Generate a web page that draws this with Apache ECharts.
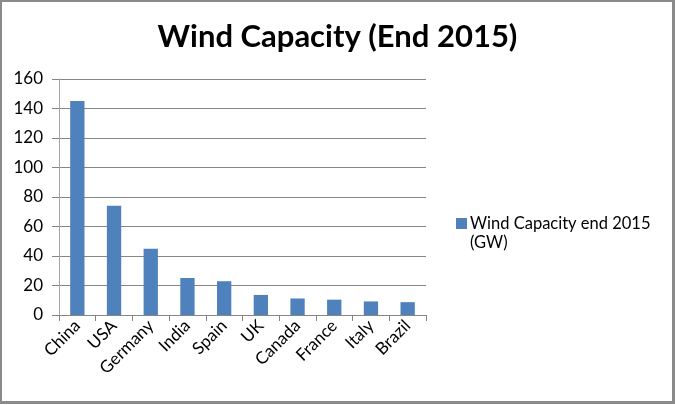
<!DOCTYPE html>
<html>
<head>
<meta charset="utf-8">
<script src="https://cdn.jsdelivr.net/npm/echarts@6/dist/echarts.min.js"></script>
<style>
html,body{margin:0;padding:0;background:#fff;}
#frame{position:absolute;left:0;top:0;width:670px;height:399px;border:2px solid #8a8a8a;border-right-width:3px;border-bottom-width:3px;}
#chart{position:absolute;left:0;top:0;width:675px;height:405px;}
</style>
</head>
<body>
<div id="chart"></div>
<div id="frame"></div>
<script>
const categories = ['China','USA','Germany','India','Spain','UK','Canada','France','Italy','Brazil'];
const capacity = [145.1, 74.0, 45.0, 25.1, 22.9, 13.6, 11.2, 10.4, 9.2, 8.7];
const seriesName = 'Wind Capacity end 2015\n(GW)';
const yTicks = {min: 0, max: 160, interval: 20};

const font = 'Lato, "Open Sans", sans-serif';
const nameLines = seriesName.split('\n');
const chart = echarts.init(document.getElementById('chart'), null, {renderer: 'canvas'});
chart.setOption({
  animation: false,
  backgroundColor: '#fff',
  title: {
    text: 'Wind Capacity (End 2015)',
    left: 'center',
    top: 16,
    textStyle: {fontFamily: font, fontWeight: 'bold', fontSize: 31, color: '#000'}
  },
  legend: {
    left: 451,
    top: 210,
    orient: 'vertical',
    itemWidth: 11,
    itemHeight: 11,
    itemGap: 0,
    icon: 'rect',
    formatter: function (n) { return n.split('\n')[0]; },
    textStyle: {fontFamily: font, fontSize: 16.5, color: '#000', padding: [0, 0, 0, -2]},
    data: [seriesName]
  },
  graphic: [{
    type: 'text',
    left: 470,
    top: 234,
    style: {text: nameLines[1], fontFamily: font, fontSize: 16.5, fill: '#000'}
  }],
  grid: {left: 59, right: 249, top: 79, bottom: 90, containLabel: false},
  xAxis: {
    type: 'category',
    data: categories,
    axisLine: {lineStyle: {color: '#868686', width: 1}},
    axisTick: {show: true, alignWithLabel: false, length: 6, lineStyle: {color: '#868686'}},
    axisLabel: {rotate: 45, fontFamily: font, fontSize: 17, color: '#000', margin: 8, interval: 0}
  },
  yAxis: {
    type: 'value',
    min: yTicks.min, max: yTicks.max, interval: yTicks.interval,
    axisLine: {show: true, lineStyle: {color: '#a6a6a6', width: 1}},
    axisTick: {show: true, length: 7, lineStyle: {color: '#868686'}},
    axisLabel: {fontFamily: font, fontSize: 17, color: '#000', margin: 16},
    splitLine: {lineStyle: {color: '#868686', width: 1}}
  },
  series: [{
    name: seriesName,
    type: 'bar',
    data: capacity,
    barWidth: '39%',
    itemStyle: {color: '#4F81BD'}
  }]
});
</script>
</body>
</html>
